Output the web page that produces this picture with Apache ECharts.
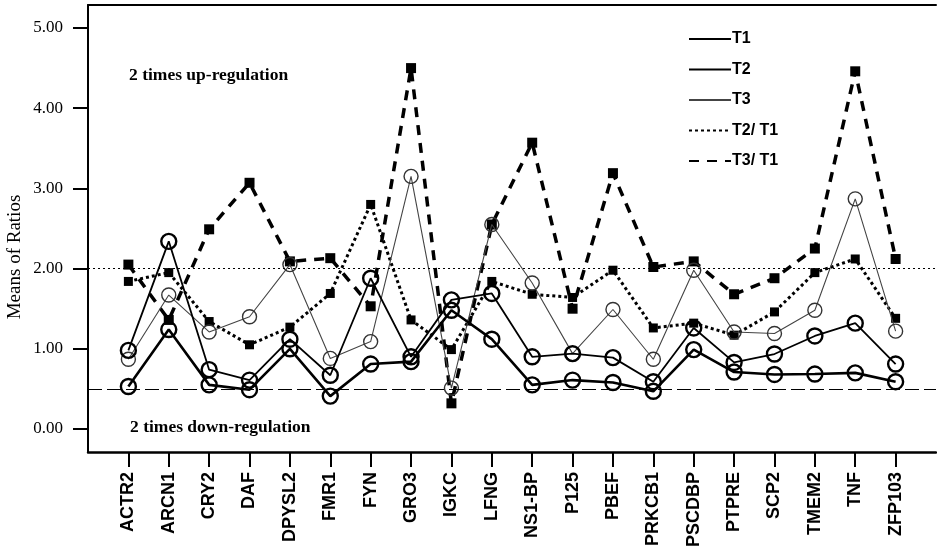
<!DOCTYPE html>
<html><head><meta charset="utf-8">
<script src="https://cdn.jsdelivr.net/npm/echarts@6/dist/echarts.min.js"></script>
<style>html,body{margin:0;padding:0;background:#fff}#c{width:937px;height:552px}</style>
</head><body><div id="c"></div>
<script>
const categories = ['ACTR2','ARCN1','CRY2','DAF','DPYSL2','FMR1','FYN','GRO3','IGKC','LFNG','NS1-BP','P125','PBEF','PRKCB1','PSCDBP','PTPRE','SCP2','TMEM2','TNF','ZFP103'];
const t1   = [0.53, 1.24, 0.55, 0.49, 1.00, 0.41, 0.81, 0.84, 1.48, 1.12, 0.55, 0.61, 0.58, 0.47, 0.99, 0.71, 0.68, 0.685, 0.70, 0.59];
const t2   = [0.98, 2.34, 0.74, 0.61, 1.12, 0.67, 1.88, 0.90, 1.61, 1.69, 0.90, 0.94, 0.89, 0.59, 1.26, 0.83, 0.935, 1.16, 1.32, 0.81];
const t3   = [0.87, 1.67, 1.21, 1.40, 2.05, 0.88, 1.09, 3.15, 0.51, 2.55, 1.82, 0.94, 1.49, 0.87, 1.98, 1.21, 1.19, 1.48, 2.87, 1.22];
const t2t1 = [1.84, 1.95, 1.34, 1.05, 1.27, 1.69, 2.80, 1.36, 0.99, 1.84, 1.68, 1.64, 1.98, 1.26, 1.32, 1.17, 1.46, 1.95, 2.12, 1.38];
const t3t1 = [2.05, 1.36, 2.49, 3.07, 2.09, 2.13, 1.53, 4.50, 0.32, 2.55, 3.57, 1.50, 3.19, 2.02, 2.09, 1.68, 1.88, 2.25, 4.46, 2.12];
const seriesNames = ['T1','T2','T3','T2/ T1','T3/ T1'];
const upLevel = 2, downLevel = 0.5;
const upText = '2 times up-regulation', downText = '2 times down-regulation';
const yAxisName = 'Means of Ratios';

const padCats = [''].concat(categories, ['']);
const pad = a => [null].concat(a, [null]);

function mk(name, data, lineStyle, symbol, symbolSize, itemStyle, z) {
  return {name, type:'line', xAxisIndex:0, yAxisIndex:0, data:pad(data), lineStyle, symbol, symbolSize,
    itemStyle, showSymbol:true, showAllSymbol:true, emphasis:{disabled:true}, silent:true, z, connectNulls:false};
}
const ring = (w,c) => ({color:'rgba(0,0,0,0)', borderColor:c, borderWidth:w});
const sq = {color:'#000', borderWidth:0};

const s1 = mk(seriesNames[0], t1, {color:'#000', width:2.6, type:'solid'}, 'circle', 15, ring(2.4,'#000'), 5);
s1.markLine = {silent:true, symbol:'none', label:{show:false},
  data:[{yAxis:upLevel, lineStyle:{color:'#000', width:1, type:[2,3]}},
        {yAxis:downLevel, lineStyle:{color:'#000', width:1, type:[14,5]}}]};
const s2 = mk(seriesNames[1], t2, {color:'#000', width:1.8, type:'solid'}, 'circle', 15, ring(2.4,'#000'), 5);
const s3 = mk(seriesNames[2], t3, {color:'#444', width:1.1, type:'solid'}, 'circle', 14, ring(1.4,'#333'), 4);
const s4 = mk(seriesNames[3], t2t1, {color:'#000', width:3, type:[3,3]}, 'rect', 9, sq, 3);
const s5 = mk(seriesNames[4], t3t1, {color:'#000', width:3.5, type:[10,8]}, 'rect', 10, sq, 3);

const chart = echarts.init(document.getElementById('c'), null, {renderer:'canvas'});
chart.setOption({
  animation:false,
  backgroundColor:'#fff',
  grid:[
    {left:88, right:1, top:28, bottom:123, outerBoundsMode:'none'},
    {left:88, right:1, top:5, bottom:100, outerBoundsMode:'none'}
  ],
  xAxis:[
    {gridIndex:0, type:'category', data:padCats, boundaryGap:false, show:false},
    {gridIndex:1, type:'category', data:padCats, boundaryGap:false, position:'bottom',
      axisLine:{onZero:false, lineStyle:{color:'#000', width:2.5}},
      axisTick:{show:true, length:15, interval:(i,v)=>v!=='', lineStyle:{color:'#000', width:2}},
      axisLabel:{rotate:90, interval:0, margin:20, color:'#000', fontFamily:'Liberation Sans', fontWeight:'bold', fontSize:18},
      splitLine:{show:false}},
    {gridIndex:1, type:'category', data:padCats, boundaryGap:false, position:'top',
      axisLine:{onZero:false, lineStyle:{color:'#000', width:2}}, axisTick:{show:false}, axisLabel:{show:false}, splitLine:{show:false}}
  ],
  yAxis:[
    {gridIndex:0, type:'value', min:0, max:5, interval:1,
      axisLine:{show:false}, axisTick:{show:true, length:15, lineStyle:{color:'#000', width:2}},
      axisLabel:{formatter:v=>v.toFixed(2), margin:25, color:'#000', fontFamily:'Liberation Serif', fontSize:17},
      splitLine:{show:false}},
    {gridIndex:1, type:'value', min:0, max:1,
      axisLine:{show:true, onZero:false, lineStyle:{color:'#000', width:2}}, axisTick:{show:false}, axisLabel:{show:false}, splitLine:{show:false}}
  ],
  legend:{orient:'vertical', left:683, top:26, itemWidth:42, itemHeight:14, itemGap:14.5,
    data:seriesNames, selectedMode:false, itemStyle:{opacity:0},
    textStyle:{color:'#000', fontFamily:'Liberation Sans', fontWeight:'bold', fontSize:16, padding:[0,0,0,-4]}},
  graphic:[
    {type:'text', left:129, top:66, style:{text:upText, font:'bold 17.5px "Liberation Serif"', fill:'#000'}},
    {type:'text', left:130, top:418, style:{text:downText, font:'bold 17.5px "Liberation Serif"', fill:'#000'}},
    {type:'text', x:15, y:257, rotation:Math.PI/2, style:{text:yAxisName, font:'19px "Liberation Serif"', fill:'#000', align:'center', verticalAlign:'middle'}}
  ],
  series:[s1,s2,s3,s4,s5]
});
</script></body></html>
